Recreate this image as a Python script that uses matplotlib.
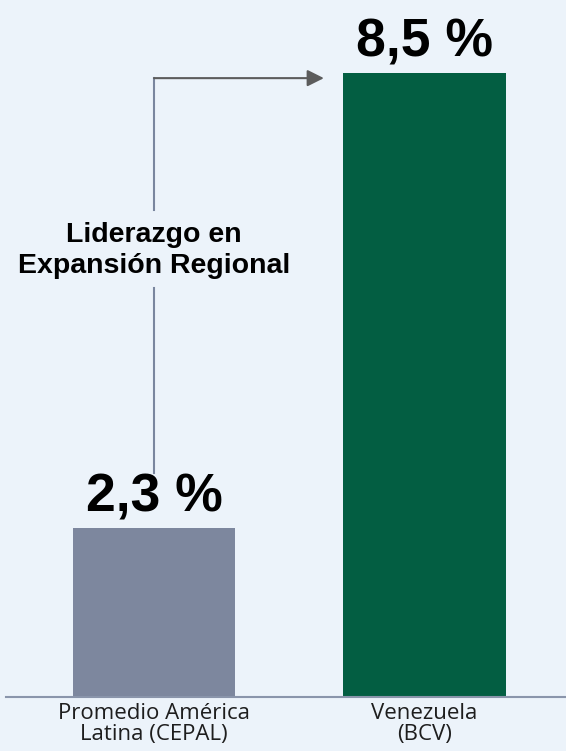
import matplotlib.pyplot as plt

categories = ["Promedio América\nLatina (CEPAL)", "Venezuela\n(BCV)"]
values = [2.3, 8.5]
value_labels = ["2,3 %", "8,5 %"]
bar_colors = ["#7d879e", "#035e42"]
note = "Liderazgo en\nExpansión Regional"

bg = "#ecf3fa"

fig = plt.figure(figsize=(5.66, 7.51), dpi=100, facecolor=bg)
# baseline at y=697px, axes spans to top of figure
ax = fig.add_axes([6 / 566, 54 / 751, 560 / 566, 697 / 751])
ax.set_facecolor(bg)

x = [0, 1]
ax.bar(x, values, width=0.6, color=bar_colors, zorder=2)

ax.set_xlim(-0.547, 1.523)
ax.set_ylim(0, 8.5 * 697 / 624)

for xi, v, lab in zip(x, values, value_labels):
    ax.text(xi, v + 0.23, lab, ha="center", va="baseline", fontsize=38.5,
            fontweight="bold", family="Liberation Sans", color="black")

for s in ["top", "right", "left"]:
    ax.spines[s].set_visible(False)
ax.spines["bottom"].set_color("#8a95ab")
ax.spines["bottom"].set_linewidth(1.5)
ax.set_yticks([])
ax.set_xticks(x)
ax.set_xticklabels(categories, family="Open Sans", fontsize=16, color="#1e1e1e",
                   linespacing=1.05)
ax.tick_params(axis="x", length=0, pad=4)

# connector arrow from the regional average to Venezuela
line_col = "#7a869e"
y_top = 8.43
ax.plot([0, 0], [3.05, 5.57], color=line_col, lw=1.5, zorder=1)
ax.plot([0, 0], [6.63, y_top], color=line_col, lw=1.5, zorder=1)
ax.annotate("", xy=(0.628, y_top), xytext=(0, y_top),
            arrowprops=dict(arrowstyle="-|>,head_length=1.0,head_width=0.5",
                            color=line_col, lw=1.5, shrinkA=0, shrinkB=0,
                            fc="#5c5c5c", ec="#5c5c5c"))
ax.text(0.0, 6.08, note, ha="center", va="center", fontsize=20.5,
        fontweight="bold", family="Liberation Sans", color="black",
        linespacing=1.25)

fig.savefig("out.png", dpi=100, facecolor=bg)
